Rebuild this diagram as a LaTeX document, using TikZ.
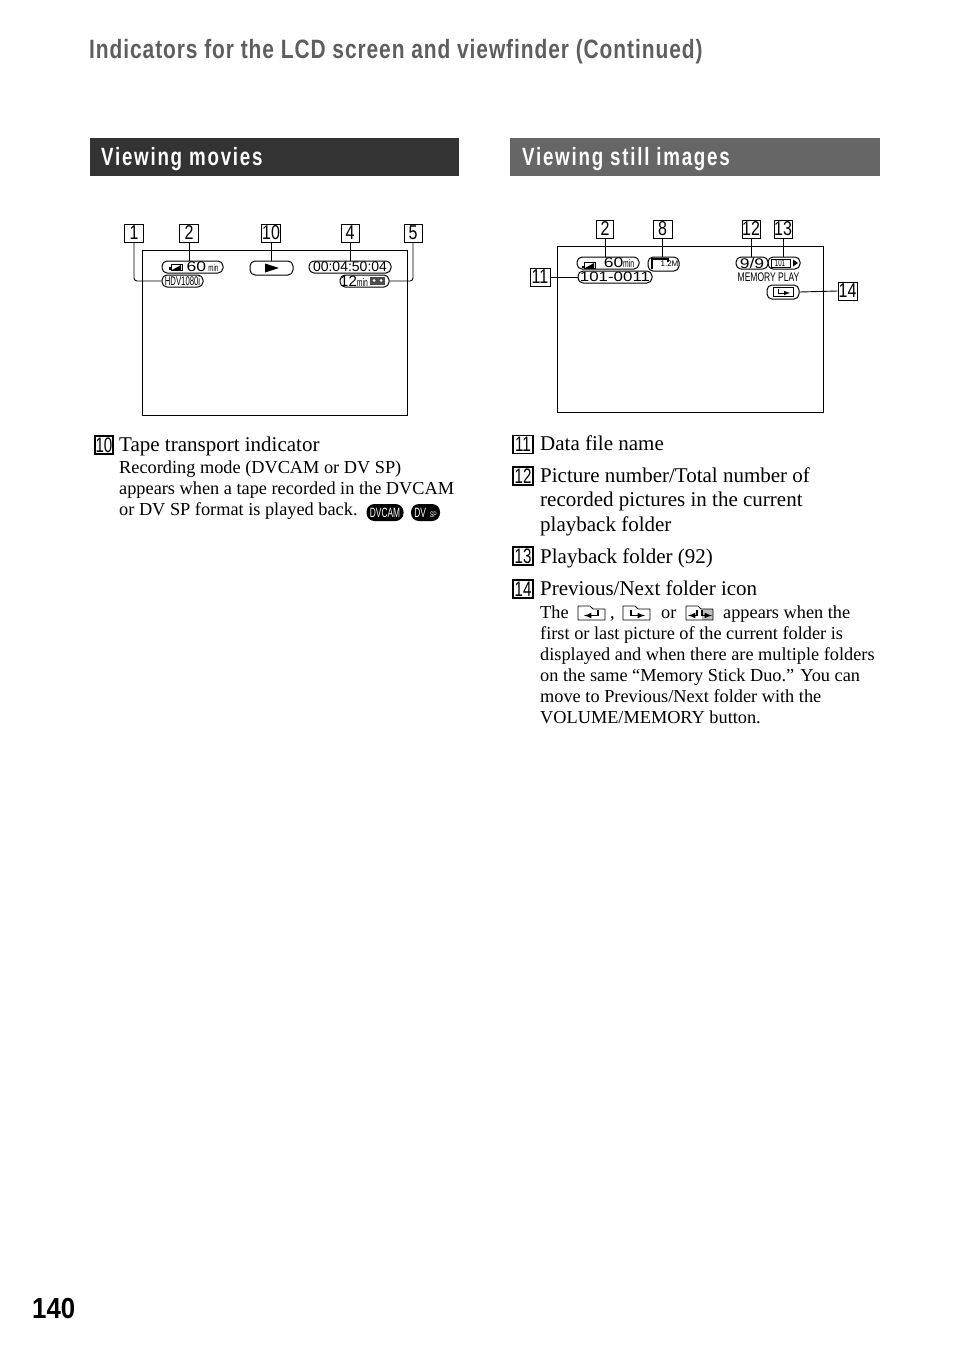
\documentclass[tikz,border=0pt]{standalone}
\usepackage{fontspec}
\setmainfont{Liberation Serif}
\newfontfamily\headfont[FakeStretch=0.79,LetterSpace=3.5]{Liberation Sans}
\newfontfamily\bannerfont[FakeStretch=0.75,LetterSpace=7]{Liberation Sans}
\newfontfamily\lblfont{Liberation Sans}
\newfontfamily\widefont[FakeStretch=1.25]{Liberation Sans}
\newfontfamily\pagefont[FakeStretch=0.89]{Liberation Sans}
\newfontfamily\numfont[FakeStretch=0.8]{Liberation Sans}
\newfontfamily\itemfont[FakeStretch=0.72]{Liberation Sans}
\newfontfamily\narrowfont[FakeStretch=0.62]{Liberation Sans}
\newfontfamily\memfont[FakeStretch=0.68]{Liberation Sans}
\definecolor{headgray}{HTML}{5E5E5E}
\definecolor{bannerdark}{HTML}{333333}
\definecolor{bannerlight}{HTML}{666666}
\tikzset{
    numbox/.style={draw, line width=0.9pt, minimum width=18pt, minimum height=18pt, inner sep=0pt, font=\numfont\fontsize{20}{20}\selectfont},
    itembox/.style={draw, line width=1.1pt, minimum width=20pt, minimum height=18pt, inner sep=0pt, font=\itemfont\fontsize{21}{21}\selectfont},
    pill/.style={draw, line width=1pt, rounded corners=5pt, inner sep=0pt, font=\lblfont\fontsize{12}{12}\selectfont},
    screen/.style={draw, line width=1.2pt, inner sep=0pt, anchor=north west},
    banner/.style={inner sep=0pt, anchor=north west, minimum height=38pt},
    lead/.style={line width=0.9pt},
    bigtext/.style={anchor=base west, inner sep=0pt, font=\fontsize{21}{21}\selectfont},
    smalltext/.style={anchor=base west, inner sep=0pt, font=\fontsize{18.3}{18}\selectfont},
    bartext/.style={anchor=base west, inner sep=0pt, text=white, font=\bannerfont\bfseries\fontsize{25}{25}\selectfont},
    blackoval/.style={fill=black, text=white, rounded corners=8pt, inner sep=0pt, minimum height=17pt, font=\narrowfont\fontsize{13.5}{13}\selectfont},
    folderline/.style={line width=0.9pt, line join=round},
    folderarrow/.style={line width=1.5pt, -latex},
}
\begin{document}
\begin{tikzpicture}[x=1pt, y=-1pt]
    \useasboundingbox (0,0) rectangle (954,1357);

    % page heading
    \node[anchor=base west, inner sep=0pt, text=headgray, font=\headfont\bfseries\fontsize{26.5}{26}\selectfont] (title) at (89,58) {Indicators for the LCD screen and viewfinder (Continued)};
    \node[anchor=base west, inner sep=0pt, font=\pagefont\bfseries\fontsize{29}{29}\selectfont] (pagenum) at (32,1318) {140};

    % section banners
    \node[banner, fill=bannerdark, minimum width=369pt] (moviebar) at (90,138) {};
    \node[banner, fill=bannerlight, minimum width=370pt] (stillbar) at (510,138) {};
    \node[bartext] (movietitle) at (101,165) {Viewing movies};
    \node[bartext] (stilltitle) at (522,165) {Viewing still images};

    % the two screens
    \node[screen, minimum width=264.5pt, minimum height=164.5pt] (moviescreen) at (142,250) {};
    \node[screen, minimum width=265.5pt, minimum height=165.5pt] (stillscreen) at (557,246) {};

    % indicators, left
    \node[pill, minimum width=61pt, minimum height=12pt] (battery) at (192.5,267) {\hspace{20pt}\widefont\fontsize{14}{14}\selectfont 60\,\narrowfont\fontsize{10}{10}\selectfont min};
    \node[pill, minimum width=41pt, minimum height=12pt, font=\narrowfont\fontsize{12.5}{12}\selectfont] (hdv) at (182.5,281) {HDV1080i};
    \node[pill, minimum width=43pt, minimum height=14pt] (transport) at (271.5,268) {};
    \node[pill, minimum width=82pt, minimum height=12pt, font=\lblfont\fontsize{14}{13}\selectfont] (counter) at (350,267) {00:04:50:04};
    \node[pill, minimum width=49pt, minimum height=12pt] (remain) at (364.5,281) {\hspace{-21pt}\lblfont\fontsize{15}{14}\selectfont 12\narrowfont\fontsize{11}{10}\selectfont min};
    \fill (265,263.5) -- (279,268) -- (265,272.5) -- cycle;
    \fill (169,270) rectangle (171,267);
    \draw[line width=0.5pt] (171,264.5) rectangle (182,270);
    \fill (172,270) -- (181,270) -- (181,265) -- cycle;
    \fill[black!70] (370,276.5) rectangle (385,285);
    \fill[white] (374,280.5) circle (1.5pt) (381,280.5) circle (1.5pt);

    % indicators, right
    \node[pill, minimum width=62pt, minimum height=12pt] (batterystill) at (608,263) {\hspace{22pt}\widefont\fontsize{14}{14}\selectfont 60\narrowfont\fontsize{11}{10}\selectfont min};
    \node[pill, minimum width=31pt, minimum height=14pt, font=\lblfont\fontsize{8}{8}\selectfont] (picsize) at (663.5,264) {\hspace{12pt}\raisebox{-3pt}{1.2M}};
    \node[pill, minimum width=32pt, minimum height=12pt, font=\widefont\fontsize{14}{14}\selectfont] (picnum) at (752,263) {9/9};
    \node[pill, minimum width=32pt, minimum height=12pt, font=\narrowfont\fontsize{10}{10}\selectfont] (folder) at (784,263) {\hspace{-8pt}101};
    \node[pill, minimum width=74pt, minimum height=12pt, font=\widefont\fontsize{13.5}{13}\selectfont] (filename) at (615,277) {101-0011};
    \node[pill, minimum width=32pt, minimum height=14pt] (nextfolder) at (783,292) {};
    \node[inner sep=0pt, font=\memfont\fontsize{12.5}{12}\selectfont] (memplay) at (768.5,277.5) {MEMORY PLAY};
    \fill (582,268) rectangle (584,265.5);
    \draw[line width=0.5pt] (584,262.5) rectangle (595,268);
    \fill (585,268) -- (594,268) -- (594,263) -- cycle;
    \draw[line width=1.3pt] (652,269) -- (652,259) -- (668,259) -- (668,262);
    \draw[line width=0.6pt] (771,259) rectangle (790,267);
    \fill (793,259.5) -- (798,263) -- (793,266.5) -- cycle;
    \draw[line width=0.7pt] (773,296.5) -- (773,287.5) -- (793,287.5) -- (793,296.5) -- cycle;
    \draw[line width=1pt, -latex] (778,289) -- (778,293) -- (790,293);

    % number boxes over the screens
    \foreach \nm/\txt/\x/\y/\w in {a1/1/134/233/19, a2/2/189/233/19, a10/10/271/233/19, a4/4/350/233/18, a5/5/413/233/18, b2/2/605/229/17, b8/8/662.5/229/19, b12/12/751/229/18, b13/13/783/229/18, b11/11/540/277/20, b14/14/847.5/291/19}
        \node[numbox, minimum width=\w pt] (\nm) at (\x,\y) {\txt};

    % connectors
    \draw[lead, rounded corners=3pt] (a1.south) |- (hdv.west);
    \draw[lead] (a2.south) -- (a2.south |- battery.north);
    \draw[lead] (a10.south) -- (a10.south |- transport.north);
    \draw[lead] (a4.south) -- (a4.south |- counter.north);
    \draw[lead, rounded corners=3pt] (a5.south) |- (remain.east);
    \draw[lead] (b2.south) -- (b2.south |- batterystill.north);
    \draw[lead] (b8.south) -- (b8.south |- picsize.north);
    \draw[lead] (b12.south) -- (b12.south |- picnum.north);
    \draw[lead] (b13.south) -- (b13.south |- folder.north);
    \draw[lead] (b11.east) -- (filename.west);
    \draw[lead] (b14.west) -- (nextfolder.east);

    % text, left column
    \node[itembox, minimum width=18pt] (i10) at (104,445) {10};
    \node[bigtext] (t10) at (119,451) {Tape transport indicator};
    \foreach \nm/\y/\txt in {m1/473/{Recording mode (DVCAM or DV SP)}, m2/494/{appears when a tape recorded in the DVCAM}, m3/515/{or DV SP format is played back.}}
        \node[smalltext] (\nm) at (119,\y) {\txt};
    \node[blackoval, minimum width=37pt] (dvcam) at (385,512.5) {DVCAM};
    \node[blackoval, minimum width=29pt] (dvsp) at (425.5,512.5) {DV\hspace{4pt}\fontsize{8}{8}\selectfont SP};

    % text, right column
    \foreach \nm/\txt/\y in {i11/11/444.5, i12/12/476, i13/13/556, i14/14/589}
        \node[itembox] (\nm) at (523,\y) {\txt};
    \foreach \nm/\y/\txt in {t11/450/{Data file name}, t12a/482/{Picture number/Total number of}, t12b/506/{recorded pictures in the current}, t12c/531/{playback folder}, t13/563/{Playback folder (92)}, t14/595/{Previous/Next folder icon}}
        \node[bigtext] (\nm) at (540,\y) {\txt};
    \foreach \nm/\y/\txt in {n2/639/{first or last picture of the current folder is}, n3/660/{displayed and when there are multiple folders}, n4/681/{on the same “Memory Stick Duo.” You can}, n5/702/{move to Previous/Next folder with the}, n6/723/{VOLUME/MEMORY button.}}
        \node[smalltext] (\nm) at (540,\y) {\txt};
    \node[smalltext] (n1a) at (540,618) {The};
    \node[smalltext] (n1b) at (610,618) {,};
    \node[smalltext] (n1c) at (661,618) {or};
    \node[smalltext] (n1d) at (723,618) {appears when the};

    % folder icons
    \fill[black!25] (702,609) rectangle (713,620);
    \foreach \x in {578,623,686}
        \draw[folderline] (\x,620) -- (\x,606) -- ++(12,0) -- ++(3,3) -- (\x+27,609) -- (\x+27,620) -- cycle;
    \draw[folderarrow] (598,610) -- (598,615.5) -- (584,615.5);
    \draw[folderarrow] (631,610) -- (631,615.5) -- (645,615.5);
    \draw[folderarrow] (697,610) -- (697,615.5) -- (688,615.5);
    \draw[folderarrow] (702,610) -- (702,615.5) -- (712,615.5);
\end{tikzpicture}
\end{document}
